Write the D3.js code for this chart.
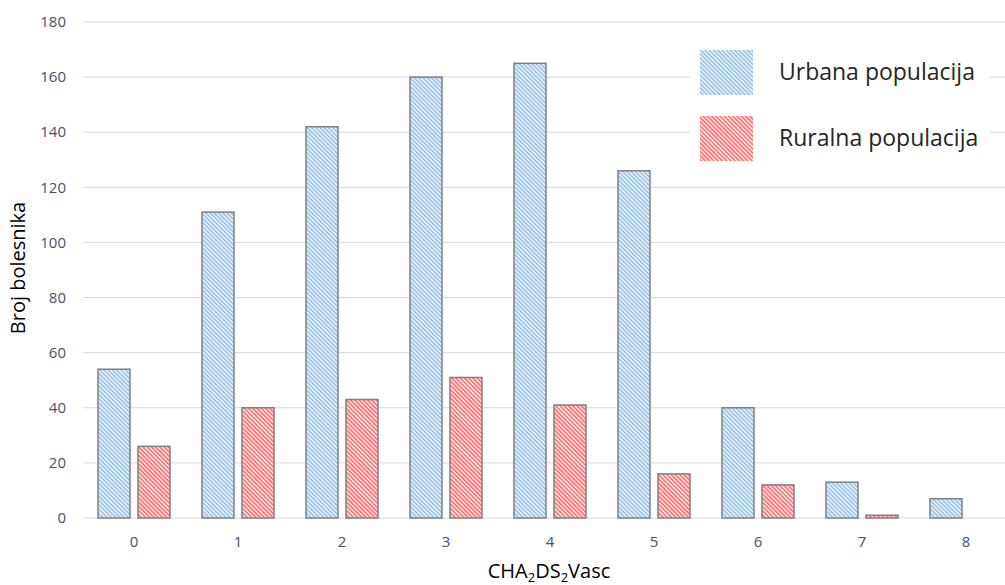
<!DOCTYPE html>
<html><head><meta charset="utf-8">
<script src="https://cdn.jsdelivr.net/npm/d3@7/dist/d3.min.js"></script>
<style>body{margin:0;background:#fff}svg{display:block}</style>
</head><body><svg id="c" width="1005" height="585"></svg>
<script>
const categories = ["0","1","2","3","4","5","6","7","8"];
const urbanValues = [54,111,142,160,165,126,40,13,7];
const ruralValues = [26,40,43,51,41,16,12,1,0];
const yTicks = [0,20,40,60,80,100,120,140,160,180];
const seriesNames = ["Urbana populacija","Ruralna populacija"];

const svg = d3.select("#c");
const font = "'Open Sans', sans-serif";
const defs = svg.append("defs");
function hatch(id, light, dark){
  const p = defs.append("pattern").attr("id",id).attr("patternUnits","userSpaceOnUse")
    .attr("width",3).attr("height",3).attr("patternTransform","rotate(-45)");
  p.append("rect").attr("width",3).attr("height",3).attr("fill","#fff");
  p.append("rect").attr("x",0).attr("y",0).attr("width",1.1).attr("height",3).attr("fill",light);
  p.append("rect").attr("x",1.1).attr("y",0).attr("width",0.5).attr("height",3).attr("fill",dark);
}
hatch("hb","#9dc3e6","#5b9bd5");
hatch("hr","#ff8080","#ff0000");

const x = d3.scaleBand().domain(categories).range([81,1017]).paddingInner(0).paddingOuter(0);
const y = d3.scaleLinear().domain([0,180]).range([518,22]);

svg.append("g").selectAll("line").data(yTicks).join("line")
  .attr("x1",83).attr("x2",1005).attr("y1",d=>y(d)).attr("y2",d=>y(d))
  .attr("stroke","#d9d9d9").attr("stroke-width",1);

svg.append("g").selectAll("text").data(yTicks).join("text")
  .attr("x",66).attr("y",d=>y(d)).attr("dy","0.35em").attr("text-anchor","end")
  .attr("font-family",font).attr("font-size",15).attr("fill","#44546a").text(d=>d);

svg.append("g").selectAll("text").data(categories).join("text")
  .attr("x",d=>x(d)+x.bandwidth()/2+1).attr("y",547).attr("text-anchor","middle")
  .attr("font-family",font).attr("font-size",15).attr("fill","#44546a").text(d=>d);

const bw = 32;
const bars = svg.append("g");
bars.selectAll("rect.u").data(categories).join("rect").attr("class","u")
  .attr("x",d=>x(d)+x.bandwidth()/2-35).attr("width",bw)
  .attr("y",(d,i)=>y(urbanValues[i])).attr("height",(d,i)=>y(0)-y(urbanValues[i]))
  .attr("fill","url(#hb)").attr("stroke","#808080").attr("stroke-width",1.5);
bars.selectAll("rect.r").data(categories.filter((d,i)=>ruralValues[i]>0)).join("rect").attr("class","r")
  .attr("x",d=>x(d)+x.bandwidth()/2+5).attr("width",bw)
  .attr("y",d=>y(ruralValues[categories.indexOf(d)])).attr("height",d=>y(0)-y(ruralValues[categories.indexOf(d)]))
  .attr("fill","url(#hr)").attr("stroke","#808080").attr("stroke-width",1.5);

const lg = svg.append("g");
lg.append("rect").attr("x",690).attr("y",40).attr("width",300).attr("height",135).attr("fill","#fff");
const fills = ["url(#hb)","url(#hr)"];
seriesNames.forEach((n,i)=>{
  lg.append("rect").attr("x",700).attr("y",50+i*66).attr("width",53).attr("height",45).attr("fill",fills[i]);
  lg.append("text").attr("x",779).attr("y",72+i*66).attr("dy","0.35em")
    .attr("font-family",font).attr("font-size",23).attr("fill","#262626").text(n);
});

svg.append("text").attr("transform","translate(25,268) rotate(-90)").attr("text-anchor","middle")
  .attr("font-family",font).attr("font-size",20).attr("fill","#000").text("Broj bolesnika");
const xt = svg.append("text").attr("x",549).attr("y",578).attr("text-anchor","middle")
  .attr("font-family",font).attr("font-size",20).attr("fill","#000");
xt.append("tspan").text("CHA");
xt.append("tspan").attr("font-size",13).attr("dy",4).text("2");
xt.append("tspan").attr("dy",-4).text("DS");
xt.append("tspan").attr("font-size",13).attr("dy",4).text("2");
xt.append("tspan").attr("dy",-4).text("Vasc");
</script></body></html>
